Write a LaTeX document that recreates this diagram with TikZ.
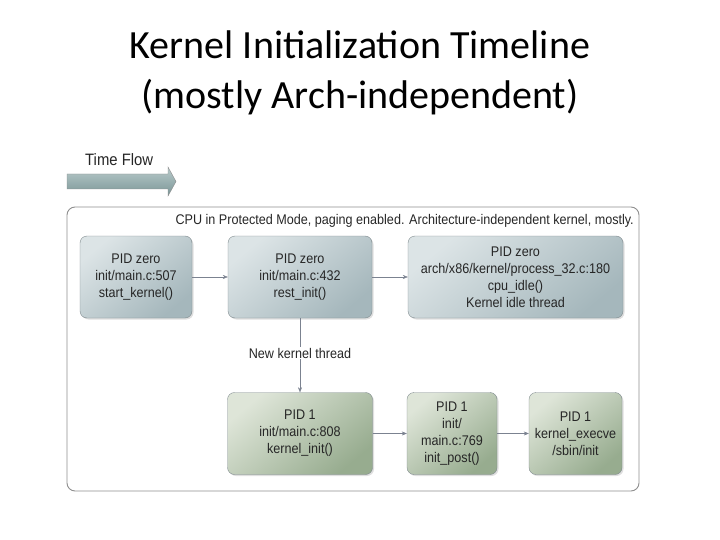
\documentclass[tikz,border=0pt]{standalone}
\usepackage{fontspec}
\setmainfont{Liberation Sans}[FakeStretch=0.9]
\newfontfamily\titlefont{Carlito}
\usetikzlibrary{arrows.meta,positioning,shadows}
\definecolor{boxline}{HTML}{7F8A8E}
\definecolor{greyhi}{HTML}{DCE4E6}
\definecolor{greylo}{HTML}{A5B7BC}
\definecolor{greenhi}{HTML}{DEE5D8}
\definecolor{greenlo}{HTML}{97AC8F}
\definecolor{conn}{HTML}{7B8290}
\definecolor{frame}{HTML}{8E8E8E}
\definecolor{flowhi}{HTML}{B9CBCB}
\definecolor{flowlo}{HTML}{7A9596}

\begin{document}
\begin{tikzpicture}[x=1pt, y=-1pt,
    every node/.style={font=\fontsize{14}{17}\selectfont, text=black!85},
    kbox/.style={draw=boxline, rounded corners=7pt, align=center, inner sep=2pt,
      minimum height=82pt, drop shadow={opacity=0.25, shadow xshift=1.5pt, shadow yshift=-1.5pt}},
    pidzero/.style={kbox, top color=greyhi, bottom color=greylo, shading angle=40},
    pidone/.style={kbox, top color=greenhi, bottom color=greenlo, shading angle=40},
    link/.style={draw=conn, -{Stealth[length=5pt, width=4pt]}}]
        \useasboundingbox (0,0) rectangle (720,540);
        \node[font=\titlefont\fontsize{40}{50}\selectfont, text=black, align=center] (title) at (360,73)
          {Kernel Initialization Timeline\\(mostly Arch-independent)};
        % time flow arrow
        \node[anchor=west, inner sep=0pt, font=\fontsize{16.5}{18}\selectfont] (flow) at (85,160) {Time Flow};
        \draw[draw=black!45, top color=flowhi, bottom color=flowlo]
          (67,174) -- (168,174) -- (168,167) -- (176,181.5) -- (168,196) -- (168,189) -- (67,189) -- cycle;
        % outer frame
        \draw[frame, rounded corners=8pt, line width=0.9pt] (67,207) rectangle (639,491);
        \node[anchor=east, inner sep=0pt] (mode) at (634,221)
          {CPU in Protected Mode, paging enabled. Architecture-independent kernel, mostly.};
        \node[pidzero, minimum width=112pt] (start) at (136,277) {PID zero\\init/main.c:507\\start\_kernel()};
        \node[pidzero, minimum width=144pt] (rest) at (300,277) {PID zero\\init/main.c:432\\rest\_init()};
        \node[pidzero, minimum width=215pt] (idle) at (515.5,277)
          {PID zero\\arch/x86/kernel/process\_32.c:180\\cpu\_idle()\\Kernel idle thread};
        \node[pidone, minimum width=145pt] (kinit) at (300,433.5) {PID 1\\init/main.c:808\\kernel\_init()};
        \node[pidone, minimum width=90pt] (post) at (452,433.5) {PID 1\\init/\\main.c:769\\init\_post()};
        \node[pidone, minimum width=93pt] (exec) at (575.5,433.5) {PID 1\\kernel\_execve\\/sbin/init};
        \draw[link] (start) -- (rest);
        \draw[link] (rest) -- (idle);
        \draw[link] (rest) -- node[fill=white, inner sep=1pt, pos=0.47] (thread) {New kernel thread} (kinit);
        \draw[link] (kinit) -- (post);
        \draw[link] (post) -- (exec);
      \end{tikzpicture}
\end{document}
